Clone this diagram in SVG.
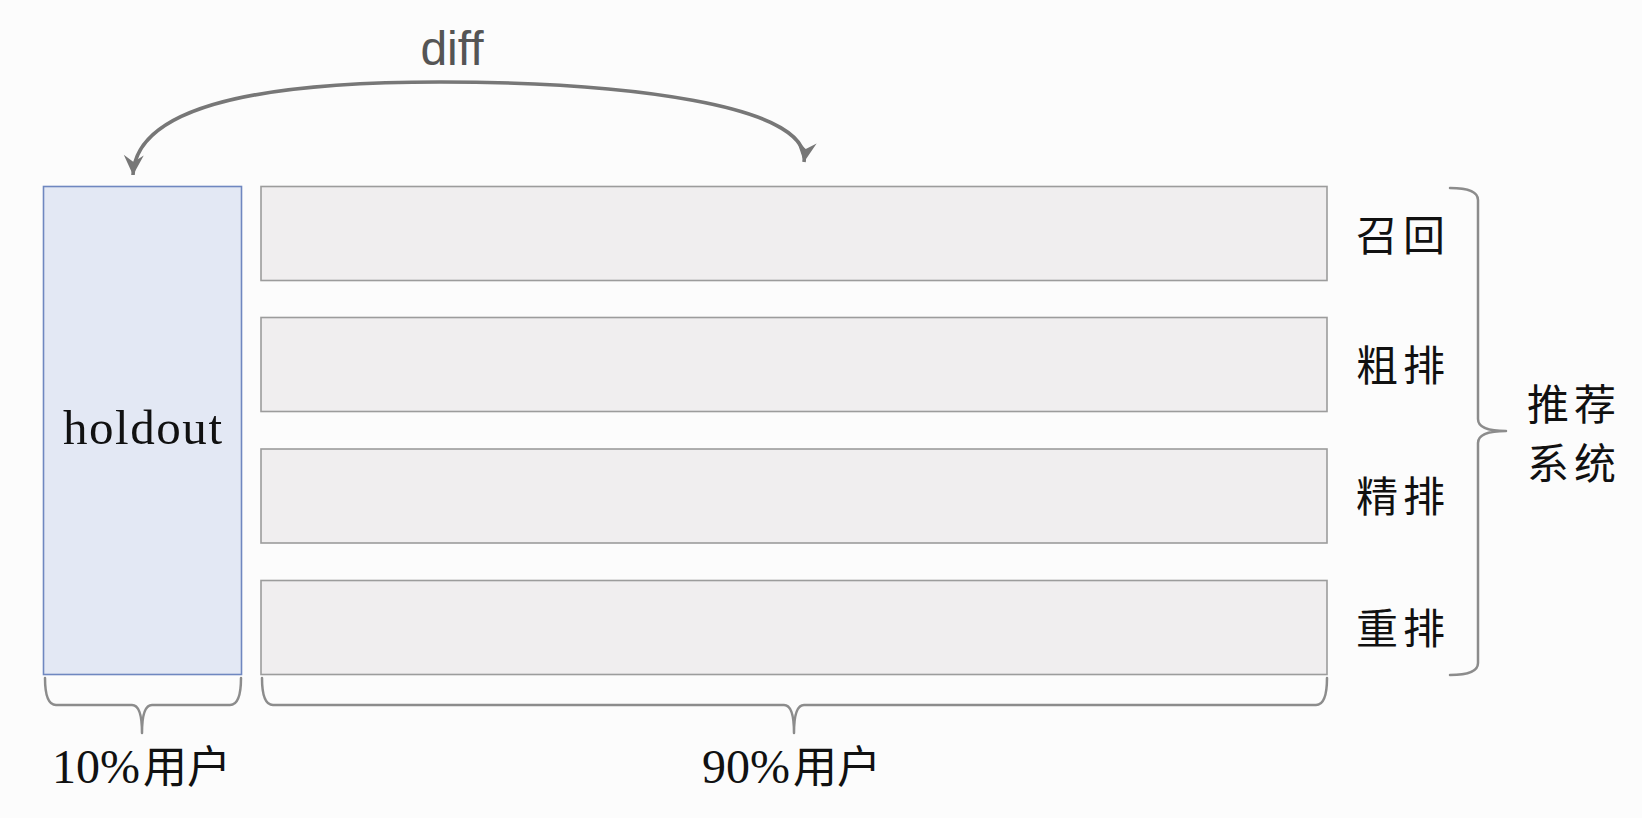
<svg xmlns="http://www.w3.org/2000/svg" width="1642" height="818" viewBox="0 0 1642 818">
<style>
.bg{fill:#fcfcfc}
.stage{fill:#f0eeef;stroke:#9c9c9c;stroke-width:1.6}
.hold{fill:#e3e8f4;stroke:#6f87c0;stroke-width:1.6}
.brace{fill:none;stroke:#8c8c8c;stroke-width:2.5;stroke-linejoin:round;stroke-linecap:round}
.arc{fill:none;stroke:#777;stroke-width:3.6}
.cjk{font-family:"Noto Sans CJK SC","Noto Sans CJK TC",sans-serif;fill:#111;font-size:42px;letter-spacing:5px}
.lat{font-family:"Liberation Serif","Noto Sans CJK SC",serif;fill:#111}
.diff{font-family:"Liberation Sans","Open Sans",sans-serif;fill:#555;font-size:48px}
</style>
<defs>
<marker id="ah" viewBox="-22 -12 24 24" refX="0" refY="0" markerWidth="24" markerHeight="24" markerUnits="userSpaceOnUse" orient="auto-start-reverse">
<path d="M0,0 L-20,-10 L-13,0 L-20,10 Z" fill="#777"/>
</marker>
</defs>
<rect class="bg" x="0" y="0" width="1642" height="818"/>

<g id="holdout">
<rect class="hold" x="43.5" y="186.5" width="198" height="488"/>
<text class="lat" x="63" y="444" font-size="49" textLength="159">holdout</text>
</g>

<g id="recall">
<rect class="stage" x="261" y="186.5" width="1066" height="94"/>
<text class="cjk" x="1356" y="251">召回</text>
</g>
<g id="prerank">
<rect class="stage" x="261" y="317.5" width="1066" height="94"/>
<text class="cjk" x="1356" y="381">粗排</text>
</g>
<g id="rank">
<rect class="stage" x="261" y="449" width="1066" height="94"/>
<text class="cjk" x="1356" y="512">精排</text>
</g>
<g id="rerank">
<rect class="stage" x="261" y="580.5" width="1066" height="94"/>
<text class="cjk" x="1356" y="644">重排</text>
</g>

<g id="system">
<text class="cjk" x="1527" y="420" font-size="44">推荐</text>
<text class="cjk" x="1527" y="479" font-size="44">系统</text>
</g>

<g id="users10">
<text class="lat" x="52" y="783" font-size="48">10%<tspan dx="3" font-family="Noto Sans CJK SC, sans-serif" font-size="44">用户</tspan></text>
</g>
<g id="users90">
<text class="lat" x="702" y="783" font-size="48">90%<tspan dx="3" font-family="Noto Sans CJK SC, sans-serif" font-size="44">用户</tspan></text>
</g>

<g id="connectors">
<path class="arc" d="M133 175 C136 96 300 82 440 82 C620 82 812 104 804 162" marker-start="url(#ah)" marker-end="url(#ah)"/>
<text class="diff" x="452" y="65" text-anchor="middle">diff</text>
<path class="brace" d="M1450 188 Q1478 188 1478 200 L1478 419 Q1478 431 1506 431 Q1478 431 1478 443 L1478 663 Q1478 675 1450 675"/>
<path class="brace" d="M45 678 Q45 705 56 705 L132 705 Q142 705 142 733 Q142 705 152 705 L230 705 Q241 705 241 678"/>
<path class="brace" d="M262 678 Q262 705 273 705 L784 705 Q794 705 794 733 Q794 705 804 705 L1316 705 Q1327 705 1327 678"/>
</g>
</svg>
